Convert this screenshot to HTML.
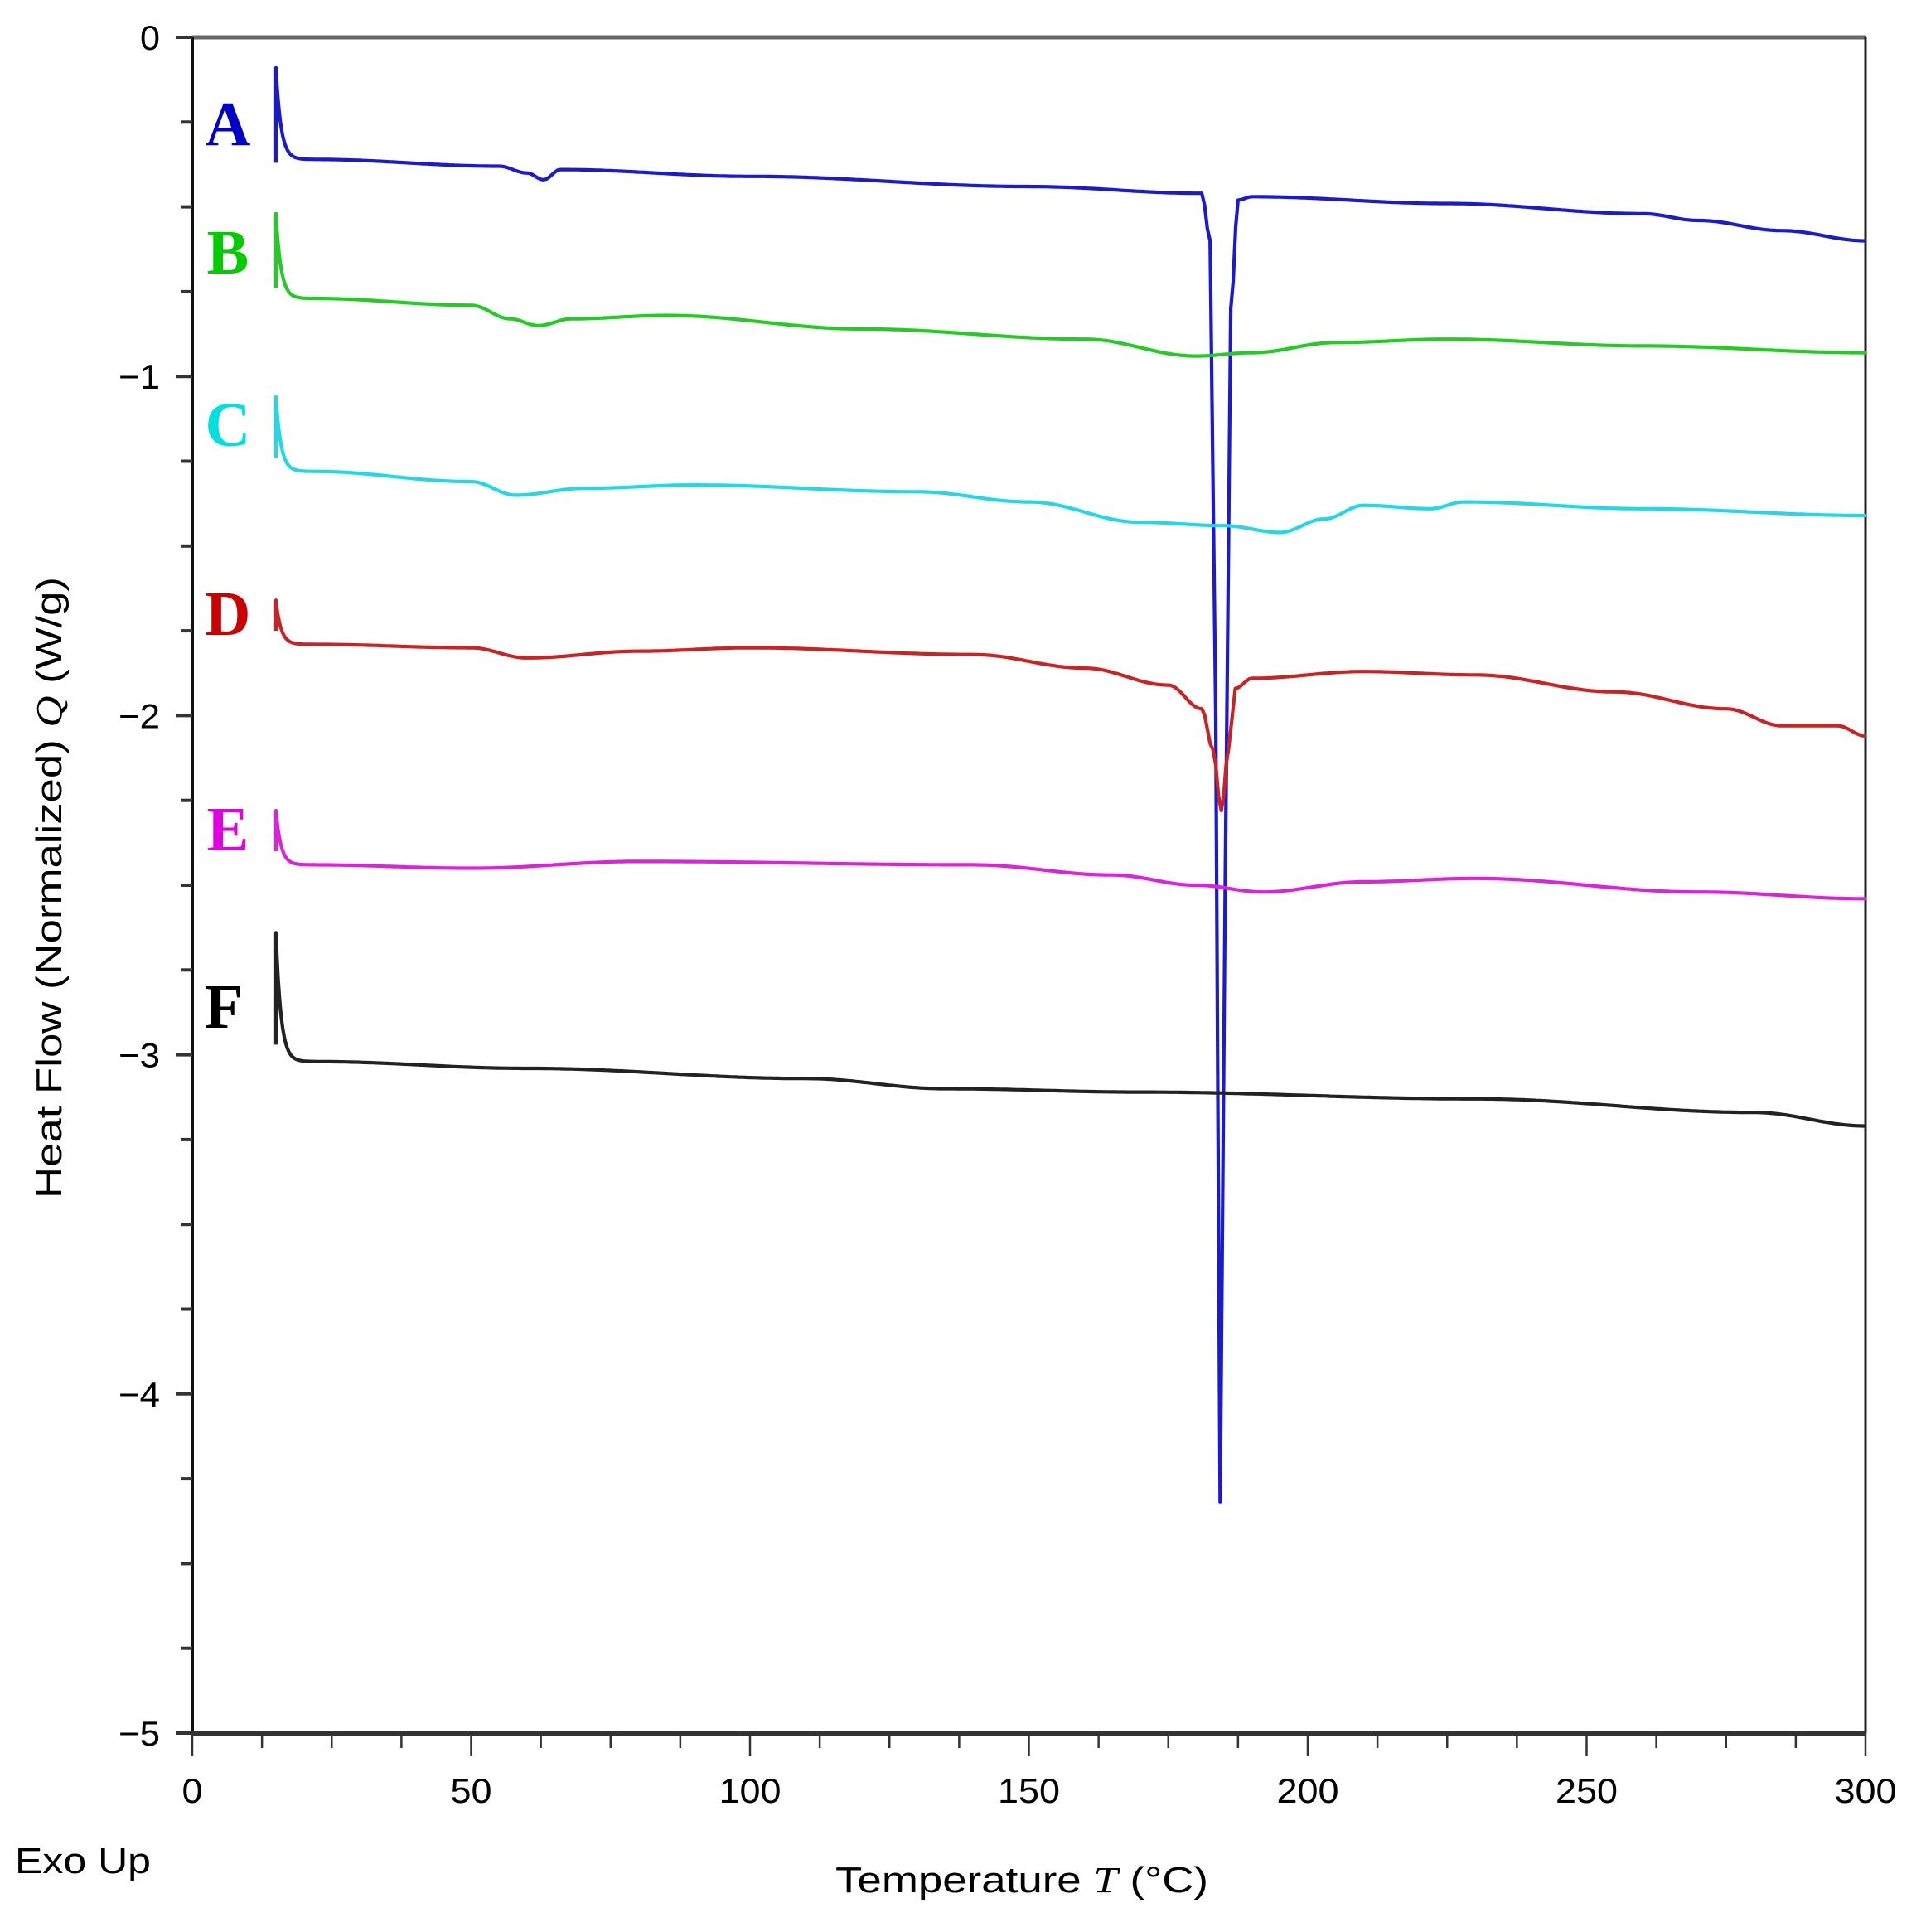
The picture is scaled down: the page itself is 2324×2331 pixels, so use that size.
<!DOCTYPE html>
<html><head><meta charset="utf-8">
<style>html,body{margin:0;padding:0;background:#fff;}svg{display:block;}</style>
</head><body>
<svg id="s" xmlns="http://www.w3.org/2000/svg" width="2324" height="2331" viewBox="0 0 2324 2331">
<rect width="2324" height="2331" fill="#fff"/>
<g id="axes"></g>
<g id="curves" fill="none" stroke-width="4.2" stroke-linejoin="round"></g>
<g font-family="'Liberation Serif',serif" font-weight="bold" font-size="76" text-anchor="middle">
<text x="275" y="175" fill="#0000c8">A</text>
<text x="275" y="330" fill="#00cc00">B</text>
<text x="275" y="538" fill="#00e0e0">C</text>
<text x="275" y="766" fill="#cc0000">D</text>
<text x="275" y="1026" fill="#e000e0">E</text>
<text x="270" y="1240" fill="#000">F</text>
</g>
<g font-family="'Liberation Sans',sans-serif" font-size="44" fill="#000">
<text x="0" y="0" transform="translate(74,1071) rotate(-90)" text-anchor="middle" textLength="750" lengthAdjust="spacingAndGlyphs">Heat Flow (Normalized) <tspan font-family="'Liberation Serif',serif" font-style="italic">Q</tspan> (W/g)</text>
<text x="18" y="2260" textLength="164" lengthAdjust="spacingAndGlyphs">Exo Up</text>
<text x="1008" y="2283" textLength="450" lengthAdjust="spacingAndGlyphs">Temperature <tspan font-family="'Liberation Serif',serif" font-style="italic">T</tspan> (°C)</text>
</g>
</svg>
<script>
var X0=232,XR=2251,XS=(XR-X0)/300,Y0=45,YS=409.2;
function px(t){return X0+t*XS;} function py(v){return Y0-v*YS;}
var ax=document.getElementById('axes'),h='';
h+='<line x1="'+X0+'" y1="'+Y0+'" x2="'+XR+'" y2="'+Y0+'" stroke="#666" stroke-width="5"/>';
h+='<line x1="'+XR+'" y1="'+Y0+'" x2="'+XR+'" y2="'+py(-5)+'" stroke="#222" stroke-width="3"/>';
h+='<line x1="'+X0+'" y1="'+Y0+'" x2="'+X0+'" y2="'+py(-5)+'" stroke="#111" stroke-width="4"/>';
h+='<line x1="'+X0+'" y1="'+py(-5)+'" x2="'+XR+'" y2="'+py(-5)+'" stroke="#333" stroke-width="6"/>';
for(var i=0;i<=20;i++){var y=py(-i*0.25);var maj=i%4==0;
 h+='<line x1="'+(maj?X0-20:X0-14)+'" y1="'+y+'" x2="'+X0+'" y2="'+y+'" stroke="#333" stroke-width="4"/>';
 if(maj){h+='<text x="193" y="'+(y+15)+'" text-anchor="end" font-family="Liberation Sans,sans-serif" font-size="42" textLength="'+(i==0?24:50)+'" lengthAdjust="spacingAndGlyphs">'+(i==0?'0':'\u2212'+(i/4))+'</text>';}}
for(var i=0;i<=24;i++){var x=px(i*12.5);var maj=i%4==0;
 h+='<line x1="'+x+'" y1="'+py(-5)+'" x2="'+x+'" y2="'+(py(-5)+(maj?28:18))+'" stroke="#333" stroke-width="2.5"/>';
 if(maj){var s=''+(i*12.5);h+='<text x="'+x+'" y="2175" text-anchor="middle" font-family="Liberation Sans,sans-serif" font-size="42" textLength="'+(s.length*25)+'" lengthAdjust="spacingAndGlyphs">'+s+'</text>';}}
ax.innerHTML=h;
function curve(peak,low,pts,col){
 var base=pts[0][1];
 var d='M'+px(15)+','+py(low)+' L'+px(15)+','+py(peak);
 for(var t=15.2;t<22;t+=0.2){var v=base+(peak-base)*Math.exp(-(t-15)/0.9);d+=' L'+px(t).toFixed(1)+','+py(v).toFixed(1);}
 for(var k=0;k<pts.length-1;k++){var a=pts[k],b=pts[k+1];var n=Math.max(2,Math.round((b[0]-a[0])*2));
  for(var j=0;j<=n;j++){if(k>0&&j==0)continue;var f=j/n,g=(1-Math.cos(f*Math.PI))/2;var t=a[0]+(b[0]-a[0])*f,v=a[1]+(b[1]-a[1])*g;d+=' L'+px(t).toFixed(1)+','+py(v).toFixed(1);}}
 return '<path d="'+d+'" stroke="'+col+'"/>';}
var c='';
c+=curve(-0.09,-0.37,[[22,-0.36],[55,-0.38],[60,-0.40],[63,-0.42],[66,-0.39],[100,-0.41],[150,-0.44],[181,-0.46],[182.5,-0.6],[183.5,-2],[184.3,-4.32],[185.2,-2.5],[186.2,-0.8],[187.5,-0.48],[190,-0.47],[225,-0.49],[260,-0.52],[270,-0.54],[285,-0.57],[300,-0.60]],'#1a1ad0');
c+=curve(-0.52,-0.74,[[22,-0.77],[50,-0.79],[57,-0.83],[62,-0.85],[68,-0.83],[85,-0.82],[120,-0.86],[160,-0.89],[180,-0.94],[190,-0.93],[205,-0.90],[225,-0.89],[260,-0.91],[300,-0.93]],'#22cc22');
c+=curve(-1.06,-1.24,[[22,-1.28],[50,-1.31],[58,-1.35],[70,-1.33],[90,-1.32],[130,-1.34],[150,-1.37],[170,-1.43],[185,-1.44],[195,-1.46],[203,-1.42],[210,-1.38],[222,-1.39],[228,-1.37],[260,-1.39],[300,-1.41]],'#22d8e8');
c+=curve(-1.66,-1.75,[[22,-1.79],[50,-1.80],[60,-1.83],[80,-1.81],[100,-1.80],[140,-1.82],[160,-1.86],[175,-1.91],[181,-1.98],[183,-2.1],[184.5,-2.28],[185.8,-2.1],[187,-1.92],[190,-1.89],[210,-1.87],[230,-1.88],[255,-1.93],[275,-1.98],[285,-2.03],[295,-2.03],[300,-2.06]],'#cc2222');
c+=curve(-2.28,-2.40,[[22,-2.44],[50,-2.45],[80,-2.43],[140,-2.44],[165,-2.47],[180,-2.50],[192,-2.52],[210,-2.49],[230,-2.48],[270,-2.52],[300,-2.54]],'#dd22dd');
c+=curve(-2.64,-2.97,[[22,-3.02],[60,-3.04],[110,-3.07],[135,-3.10],[170,-3.11],[230,-3.13],[280,-3.17],[300,-3.21]],'#222');
document.getElementById('curves').innerHTML=c;
</script>
</body></html>
